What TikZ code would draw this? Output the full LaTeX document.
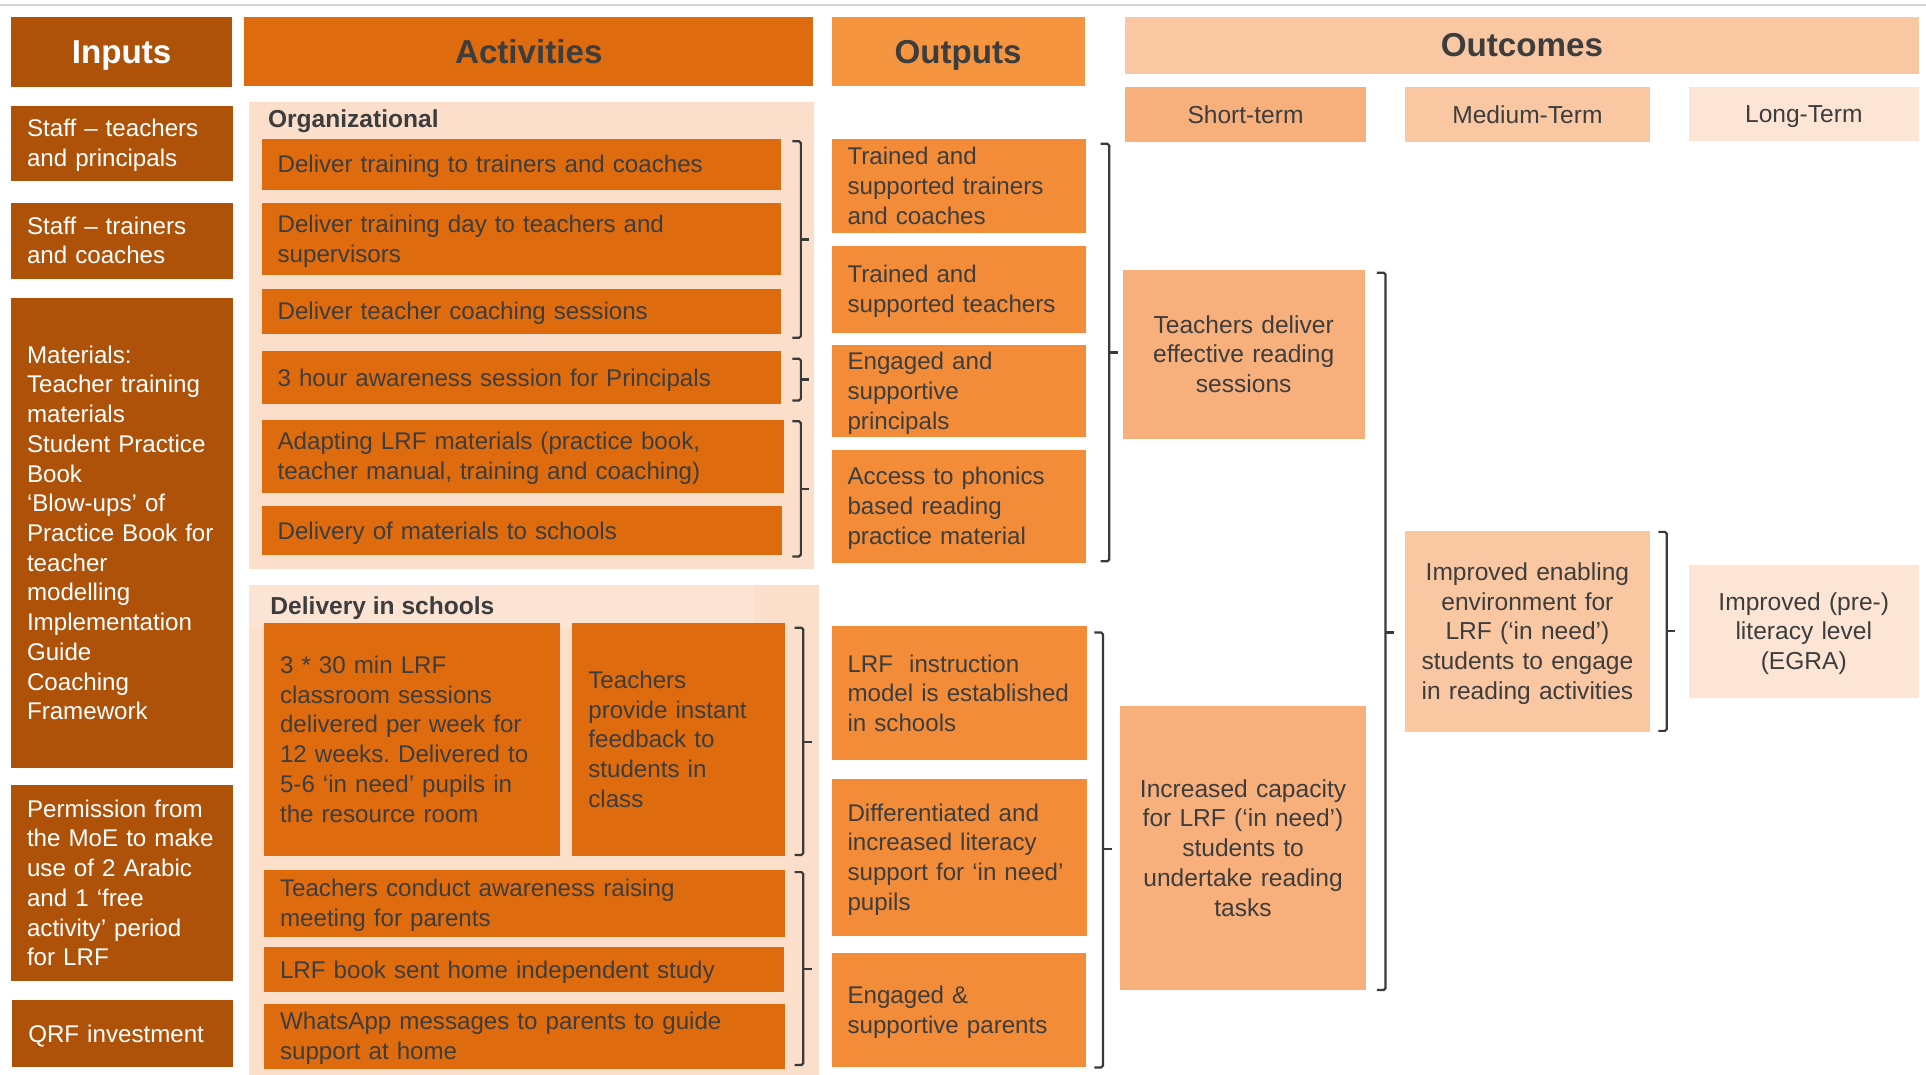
\documentclass[tikz,border=0pt]{standalone}
\usepackage{fontspec}
\setmainfont{Liberation Sans}
\usetikzlibrary{calc}
\definecolor{inp}{HTML}{AE520A}
\definecolor{act}{HTML}{DF6B0F}
\definecolor{outp}{HTML}{F38C39}
\definecolor{outh}{HTML}{F5953F}
\definecolor{shortc}{HTML}{F7B07C}
\definecolor{medc}{HTML}{F9C8A2}
\definecolor{longc}{HTML}{FCE5D4}
\definecolor{panel}{HTML}{FBDFCB}
\definecolor{panelL}{HTML}{FCE4D4}
\definecolor{txt}{HTML}{3D3D3D}
\definecolor{brkc}{HTML}{3A3A3A}
\definecolor{topline}{HTML}{D4D4D4}
\frenchspacing
\newcommand{\bodyfont}{\fontsize{19.65}{24.2}\selectfont\hyphenpenalty=10000\exhyphenpenalty=10000}
\newcommand{\outfont}{\fontsize{20}{24.2}\selectfont\hyphenpenalty=10000\exhyphenpenalty=10000}
\newcommand{\headfont}{\fontsize{27}{31}\selectfont\bfseries}
\newcommand{\subfont}{\fontsize{20}{23}\selectfont\bfseries}
\newcommand{\topstrut}{\rule{0pt}{0.905em}}
\newcommand{\botstrut}{\rule[-0.212em]{0pt}{0.212em}}
\newcommand{\boxat}[7]{%
  \pgfmathsetmacro\bxW{#5-#3}\pgfmathsetmacro\bxH{#6-#4}%
  \pgfmathsetmacro\bxX{(#3+#5)/2}\pgfmathsetmacro\bxY{(#4+#6)/2}%
  \node[#2, minimum width=\bxW pt, minimum height=\bxH pt, text width=\bxW pt - 26pt] (#1) at (\bxX,\bxY) {\topstrut#7\botstrut};}
\newcommand{\brkt}[4]{%
  \draw[brk] ($(#1,#2)+(-7,0)$) -- (#1,#2) -- (#1,#3) -- ($(#1,#3)+(-7,0)$);
  \draw[brk, rounded corners=0pt] (#1,#4) -- ($(#1,#4)+(7,0)$);}
\begin{document}
\begin{tikzpicture}[x=1pt,y=-1pt,
  every node/.style={inner sep=0pt},
  ibox/.style={fill=inp, text=white, font=\bodyfont, align=left, inner xsep=13pt, inner ysep=0pt},
  abox/.style={fill=act, text=txt, font=\bodyfont, align=left, inner xsep=13pt, inner ysep=0pt},
  obox/.style={fill=outp, text=txt, font=\bodyfont, align=left, inner xsep=13pt, inner ysep=0pt},
  cbox/.style={text=txt, font=\outfont, align=center, inner xsep=10pt, inner ysep=0pt},
  hbox/.style={font=\headfont, align=center, inner xsep=13pt, inner ysep=0pt},
  sublabel/.style={anchor=west, font=\subfont, text=txt},
  brk/.style={draw=brkc, line width=1.8pt, rounded corners=1.5pt}]
\useasboundingbox (0,0) rectangle (1568,875);
\fill[white] (0,0) rectangle (1568,875);
\draw[topline, line width=2pt] (0,4) -- (1568,4);

% Inputs
\boxat{inH}{hbox,fill=inp,text=white}{9}{14}{189}{71}{Inputs}
\boxat{in1}{ibox}{9}{86}{190}{147}{Staff – teachers\\and principals}
\boxat{in2}{ibox}{9}{165}{190}{227}{Staff – trainers\\and coaches}
\boxat{in3}{ibox}{9}{243}{190}{625}{Materials:\\Teacher training\\materials\\Student Practice\\Book\\‘Blow-ups’ of\\Practice Book for\\teacher\\modelling\\Implementation\\Guide\\Coaching\\Framework}
\boxat{in4}{ibox}{9}{639}{190}{799}{Permission from\\the MoE to make\\use of 2 Arabic\\and 1 ‘free\\activity’ period\\for LRF}
\boxat{in5}{ibox}{10}{814}{190}{869}{QRF investment}

% Activities
\boxat{actH}{hbox,fill=act,text=txt}{199}{14}{662}{70}{Activities}
\fill[panel] (203,83) rectangle (663,463);
\node[sublabel] (org) at (218,99) {Organizational};
\boxat{a1}{abox}{213}{113}{636}{155}{Deliver training to trainers and coaches}
\boxat{a2}{abox}{213}{165}{636}{224}{Deliver training day to teachers and\\supervisors}
\boxat{a3}{abox}{213}{235}{636}{272}{Deliver teacher coaching sessions}
\boxat{a4}{abox}{213}{286}{636}{329}{3 hour awareness session for Principals}
\boxat{a5}{abox}{213}{342}{638}{401}{Adapting LRF materials (practice book,\\teacher manual, training and coaching)}
\boxat{a6}{abox}{213}{412}{637}{452}{Delivery of materials to schools}

\fill[panel] (203,476) rectangle (667,875);
\fill[panelL] (203,476) rectangle (615,511);
\node[sublabel] (dis) at (220,495) {Delivery in schools};
\boxat{d1}{abox}{215}{507}{456}{697}{3 * 30 min LRF\\classroom sessions\\delivered per week for\\12 weeks. Delivered to\\5-6 ‘in need’ pupils in\\the resource room}
\boxat{d2}{abox}{466}{507}{639}{697}{Teachers\\provide instant\\feedback to\\students in\\class}
\boxat{d3}{abox}{215}{708}{639}{763}{Teachers conduct awareness raising\\meeting for parents}
\boxat{d4}{abox}{215}{771}{638}{808}{LRF book sent home independent study}
\boxat{d5}{abox}{215}{817}{639}{870}{WhatsApp messages to parents to guide\\support at home}

% Outputs
\boxat{outH}{hbox,fill=outh,text=txt}{677}{14}{883}{70}{Outputs}
\boxat{o1}{obox}{677}{113}{884}{190}{Trained and\\supported trainers\\and coaches}
\boxat{o2}{obox}{677}{200}{884}{271}{Trained and\\supported teachers}
\boxat{o3}{obox}{677}{281}{884}{356}{Engaged and\\supportive\\principals}
\boxat{o4}{obox}{677}{366}{884}{458}{Access to phonics\\based reading\\practice material}
\boxat{o5}{obox}{677}{510}{885}{619}{LRF\ \ instruction\\model is established\\in schools}
\boxat{o6}{obox}{677}{634}{885}{762}{Differentiated and\\increased literacy\\support for ‘in need’\\pupils}
\boxat{o7}{obox}{677}{776}{884}{869}{Engaged \&\\supportive parents}

% Outcomes
\boxat{ocH}{hbox,fill=medc,text=txt}{916}{14}{1562}{60}{Outcomes}
\boxat{st}{cbox,fill=shortc}{916}{71}{1112}{116}{Short-term}
\boxat{mt}{cbox,fill=medc}{1144}{71}{1343}{116}{Medium-Term}
\boxat{lt}{cbox,fill=longc}{1375}{71}{1562}{115}{Long-Term}
\boxat{s1}{cbox,fill=shortc}{914}{220}{1111}{357}{Teachers deliver\\effective reading\\sessions}
\boxat{s2}{cbox,fill=shortc}{912}{575}{1112}{806}{Increased capacity\\for LRF (‘in need’)\\students to\\undertake reading\\tasks}
\boxat{m1}{cbox,fill=medc}{1144}{432}{1343}{596}{Improved enabling\\environment for\\LRF (‘in need’)\\students to engage\\in reading activities}
\boxat{l1}{cbox,fill=longc}{1375}{460}{1562}{568}{Improved (pre-)\\literacy level\\(EGRA)}

% Brackets
\brkt{652}{115}{275}{195}
\brkt{652}{292}{326}{309}
\brkt{652}{343}{453}{398}
\brkt{654}{511}{696}{604}
\brkt{654}{710}{867}{789}
\brkt{903}{117}{457}{287}
\brkt{898}{515}{869}{691}
\brkt{1128}{222}{806}{515}
\brkt{1357}{433}{595}{514}
\end{tikzpicture}
\end{document}
